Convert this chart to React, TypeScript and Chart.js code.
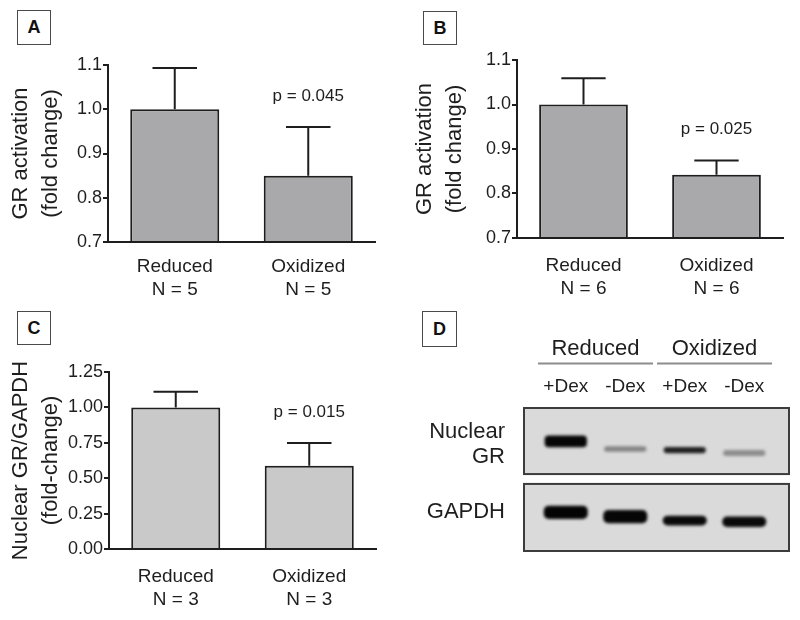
import React, { useEffect, useRef } from "react";
import { Chart, registerables } from "chart.js";

Chart.register(...registerables);

const FONT = 'Arial, "Liberation Sans", Helvetica, sans-serif';
const INK = "#1e1e1e";

// ---------- Panel A ----------
const categoriesA = [["Reduced", "N = 5"], ["Oxidized", "N = 5"]];
const meansA = [1.0, 0.85];
const semA = [0.093, 0.11];
const pLabelsA = ["", "p = 0.045"];
const yTicksA = [0.7, 0.8, 0.9, 1.0, 1.1];
const yTitleA = ["GR activation", "(fold change)"];

// ---------- Panel B ----------
const categoriesB = [["Reduced", "N = 6"], ["Oxidized", "N = 6"]];
const meansB = [1.0, 0.842];
const semB = [0.059, 0.032];
const pLabelsB = ["", "p = 0.025"];
const yTicksB = [0.7, 0.8, 0.9, 1.0, 1.1];
const yTitleB = ["GR activation", "(fold change)"];

// ---------- Panel C ----------
const categoriesC = [["Reduced", "N = 3"], ["Oxidized", "N = 3"]];
const meansC = [1.0, 0.588];
const semC = [0.11, 0.16];
const pLabelsC = ["", "p = 0.015"];
const yTicksC = [0, 0.25, 0.5, 0.75, 1.0, 1.25];
const yTitleC = ["Nuclear GR/GAPDH", "(fold-change)"];

// ---------- Panel D (western blot) ----------
const laneLabels = ["+Dex", "-Dex", "+Dex", "-Dex"];
const laneGroups = ["Reduced", "Oxidized"];
const blotRowLabels = [["Nuclear", "GR"], ["GAPDH"]];
const blotRowPositions = [25.5, 72.7];
const blotFrames = [[0, 46.2], [53.1, 100]];
const grBands = [[19.3, 27.5], [26.8, 30.6], [27.2, 31.6], [29.4, 33.6]];
const grIntensity = [0.97, 0.38, 0.85, 0.34];
const gapdhBands = [[68.4, 77.6], [71.4, 80.6], [75.3, 82.2], [75.9, 83.2]];
const gapdhIntensity = [0.98, 0.97, 0.96, 0.96];

type BarPanel = {
  labels: string[][];
  means: number[];
  errs: number[];
  pLabels: string[];
  yTicks: number[];
  decimals: number;
  title: string[];
  fill: string;
  area: { left: number; right: number; top: number; bottom: number };
  titlePad: number;
  xPad: number;
};

const W = 400;
const H = 310;

function makeBarChart(canvas: HTMLCanvasElement, p: BarPanel) {
  const errPlugin = {
    id: "errbars",
    afterDatasetsDraw(chart: any) {
      const ctx = chart.ctx;
      const y = chart.scales.y;
      const meta = chart.getDatasetMeta(0);
      ctx.save();
      ctx.strokeStyle = INK;
      ctx.lineWidth = 2;
      ctx.fillStyle = INK;
      ctx.font = `17px ${FONT}`;
      ctx.textAlign = "center";
      ctx.textBaseline = "middle";
      meta.data.forEach((bar: any, i: number) => {
        const top = y.getPixelForValue(p.means[i] + p.errs[i]);
        const cw = bar.width * 0.5;
        ctx.beginPath();
        ctx.moveTo(bar.x, bar.y);
        ctx.lineTo(bar.x, top);
        ctx.moveTo(bar.x - cw / 2, top);
        ctx.lineTo(bar.x + cw / 2, top);
        ctx.stroke();
        if (p.pLabels[i]) ctx.fillText(p.pLabels[i], bar.x, top - 31);
      });
      ctx.restore();
    },
  };
  const yMin = p.yTicks[0];
  const yMax = p.yTicks[p.yTicks.length - 1];
  const step = p.yTicks[1] - p.yTicks[0];
  return new Chart(canvas, {
    type: "bar",
    data: {
      labels: p.labels as any,
      datasets: [
        {
          data: p.means,
          base: yMin,
          backgroundColor: p.fill,
          borderColor: INK,
          borderWidth: 2,
          borderSkipped: "start",
          barPercentage: 0.667,
          categoryPercentage: 1,
        } as any,
      ],
    },
    options: {
      responsive: false,
      animation: false,
      events: [],
      layout: {
        padding: {
          left: 0,
          top: p.area.top,
          right: W - p.area.right,
          bottom: H - p.area.bottom - 60,
        },
      },
      plugins: { legend: { display: false }, tooltip: { enabled: false } },
      scales: {
        x: {
          grid: { display: false, drawTicks: false },
          border: { display: true, color: INK, width: 2 },
          ticks: {
            color: INK,
            padding: p.xPad,
            font: { family: FONT, size: 19, lineHeight: 1.21 },
            maxRotation: 0,
            autoSkip: false,
          },
          afterFit: (s: any) => {
            s.height = 60;
          },
        },
        y: {
          min: yMin,
          max: yMax,
          grid: {
            display: true,
            drawOnChartArea: false,
            drawTicks: true,
            tickLength: 5,
            color: INK,
            lineWidth: 2,
          },
          border: { display: true, color: INK, width: 2 },
          ticks: {
            stepSize: step,
            color: INK,
            padding: 1,
            font: { family: FONT, size: 18 },
            callback: (v: any) => Number(v).toFixed(p.decimals),
          },
          title: {
            display: true,
            text: p.title,
            color: INK,
            font: { family: FONT, size: 22, lineHeight: 1.36 },
            padding: { top: p.titlePad, bottom: 0 },
          },
          afterFit: (s: any) => {
            s.width = p.area.left;
          },
        },
      },
    } as any,
    plugins: [errPlugin],
  });
}

function gray(intensity: number) {
  const g = Math.round(214 * (1 - intensity));
  return `rgb(${g},${g},${g})`;
}

function makeBlotChart(canvas: HTMLCanvasElement) {
  const blotPlugin = {
    id: "blot",
    beforeDatasetsDraw(chart: any) {
      const { ctx, chartArea } = chart;
      const y = chart.scales.y;
      ctx.save();
      blotFrames.forEach(([a, b]) => {
        const top = y.getPixelForValue(a);
        const bottom = y.getPixelForValue(b);
        const left = chartArea.left - 12;
        const right = chartArea.right + 15;
        ctx.fillStyle = "#dadada";
        ctx.fillRect(left, top, right - left, bottom - top);
        ctx.strokeStyle = "#3c3c3c";
        ctx.lineWidth = 2;
        ctx.strokeRect(left, top, right - left, bottom - top);
      });
      ctx.restore();
    },
    beforeDatasetDraw(chart: any) {
      chart.ctx.save();
      chart.ctx.filter = "blur(1.6px)";
    },
    afterDatasetDraw(chart: any) {
      chart.ctx.restore();
    },
    afterDraw(chart: any) {
      const { ctx, chartArea } = chart;
      const x = chart.scales.x;
      const half = (x.getPixelForValue(1) - x.getPixelForValue(0)) / 2;
      ctx.save();
      ctx.fillStyle = INK;
      ctx.font = `22px ${FONT}`;
      ctx.textAlign = "center";
      ctx.textBaseline = "middle";
      ctx.strokeStyle = "#8c8c8c";
      ctx.lineWidth = 2;
      laneGroups.forEach((g, gi) => {
        const left = x.getPixelForValue(gi * 2) - half;
        const right = x.getPixelForValue(gi * 2 + 1) + half;
        ctx.fillText(g, (left + right) / 2, chartArea.top - 59);
        ctx.beginPath();
        ctx.moveTo(left + 2, chartArea.top - 44.5);
        ctx.lineTo(right - 2, chartArea.top - 44.5);
        ctx.stroke();
      });
      ctx.restore();
    },
  };
  return new Chart(canvas, {
    type: "bar",
    data: {
      labels: laneLabels,
      datasets: [
        {
          label: "Nuclear GR",
          data: grBands,
          backgroundColor: grIntensity.map(gray),
          grouped: false,
          barPercentage: 0.71,
          categoryPercentage: 1,
          borderWidth: 0,
          borderRadius: 4,
          borderSkipped: false,
        } as any,
        {
          label: "GAPDH",
          data: gapdhBands,
          backgroundColor: gapdhIntensity.map(gray),
          grouped: false,
          barPercentage: 0.74,
          categoryPercentage: 1,
          borderWidth: 0,
          borderRadius: 5,
          borderSkipped: false,
        } as any,
      ],
    },
    options: {
      responsive: false,
      animation: false,
      events: [],
      layout: { padding: { left: 0, right: 26, top: 58, bottom: 69 } },
      plugins: { legend: { display: false }, tooltip: { enabled: false } },
      scales: {
        x: {
          position: "top",
          grid: { display: false, drawTicks: false },
          border: { display: false },
          ticks: {
            color: INK,
            padding: 10,
            font: { family: FONT, size: 19 },
            maxRotation: 0,
            autoSkip: false,
          },
          afterFit: (s: any) => {
            s.height = 40;
          },
        },
        y: {
          min: 0,
          max: 100,
          reverse: true,
          grid: { display: false, drawTicks: false },
          border: { display: false },
          afterBuildTicks: (s: any) => {
            s.ticks = blotRowPositions.map((v) => ({ value: v }));
          },
          ticks: {
            color: INK,
            padding: 31,
            autoSkip: false,
            font: { family: FONT, size: 22, lineHeight: 1.14 },
            callback: (_v: any, i: number) => blotRowLabels[i],
          },
          afterFit: (s: any) => {
            s.width = 136;
          },
        },
      },
    } as any,
    plugins: [blotPlugin],
  });
}

const panelA: BarPanel = {
  labels: categoriesA,
  means: meansA,
  errs: semA,
  pLabels: pLabelsA,
  yTicks: yTicksA,
  decimals: 1,
  title: yTitleA,
  fill: "#a9a9ac",
  area: { left: 108, right: 375, top: 65, bottom: 242 },
  titlePad: 6,
  xPad: 13,
};
const panelB: BarPanel = {
  labels: categoriesB,
  means: meansB,
  errs: semB,
  pLabels: pLabelsB,
  yTicks: yTicksB,
  decimals: 1,
  title: yTitleB,
  fill: "#a9a9ac",
  area: { left: 117, right: 383, top: 60, bottom: 238 },
  titlePad: 10,
  xPad: 16,
};
const panelC: BarPanel = {
  labels: categoriesC,
  means: meansC,
  errs: semC,
  pLabels: pLabelsC,
  yTicks: yTicksC,
  decimals: 2,
  title: yTitleC,
  fill: "#c9c9c9",
  area: { left: 109, right: 376, top: 62, bottom: 239 },
  titlePad: 6,
  xPad: 16,
};

function LetterBox({ letter, left, top, w, h }: { letter: string; left: number; top: number; w: number; h: number }) {
  return (
    <div
      style={{
        position: "absolute",
        left,
        top,
        width: w,
        height: h,
        boxSizing: "border-box",
        border: "1.5px solid #4a4a4a",
        display: "flex",
        alignItems: "center",
        justifyContent: "center",
        fontFamily: FONT,
        fontWeight: "bold",
        fontSize: 18,
        color: "#111",
        background: "#fff",
      }}
    >
      {letter}
    </div>
  );
}

export default function App() {
  const refA = useRef<HTMLCanvasElement>(null);
  const refB = useRef<HTMLCanvasElement>(null);
  const refC = useRef<HTMLCanvasElement>(null);
  const refD = useRef<HTMLCanvasElement>(null);

  useEffect(() => {
    const charts = [
      makeBarChart(refA.current!, panelA),
      makeBarChart(refB.current!, panelB),
      makeBarChart(refC.current!, panelC),
      makeBlotChart(refD.current!),
    ];
    return () => charts.forEach((c) => c.destroy());
  }, []);

  const cs = (left: number, top: number): React.CSSProperties => ({ position: "absolute", left, top, width: W, height: H });

  return (
    <div style={{ position: "fixed", left: 0, top: 0, width: 800, height: 620, background: "#fff", overflow: "hidden" }}>
      <canvas ref={refA} width={W} height={H} style={cs(0, 0)} />
      <canvas ref={refB} width={W} height={H} style={cs(400, 0)} />
      <canvas ref={refC} width={W} height={H} style={cs(0, 310)} />
      <canvas ref={refD} width={W} height={H} style={cs(400, 310)} />
      <LetterBox letter="A" left={17} top={10} w={34} h={35} />
      <LetterBox letter="B" left={423} top={11} w={34} h={34} />
      <LetterBox letter="C" left={17} top={311} w={34} h={34} />
      <LetterBox letter="D" left={422} top={311} w={35} h={36} />
    </div>
  );
}
